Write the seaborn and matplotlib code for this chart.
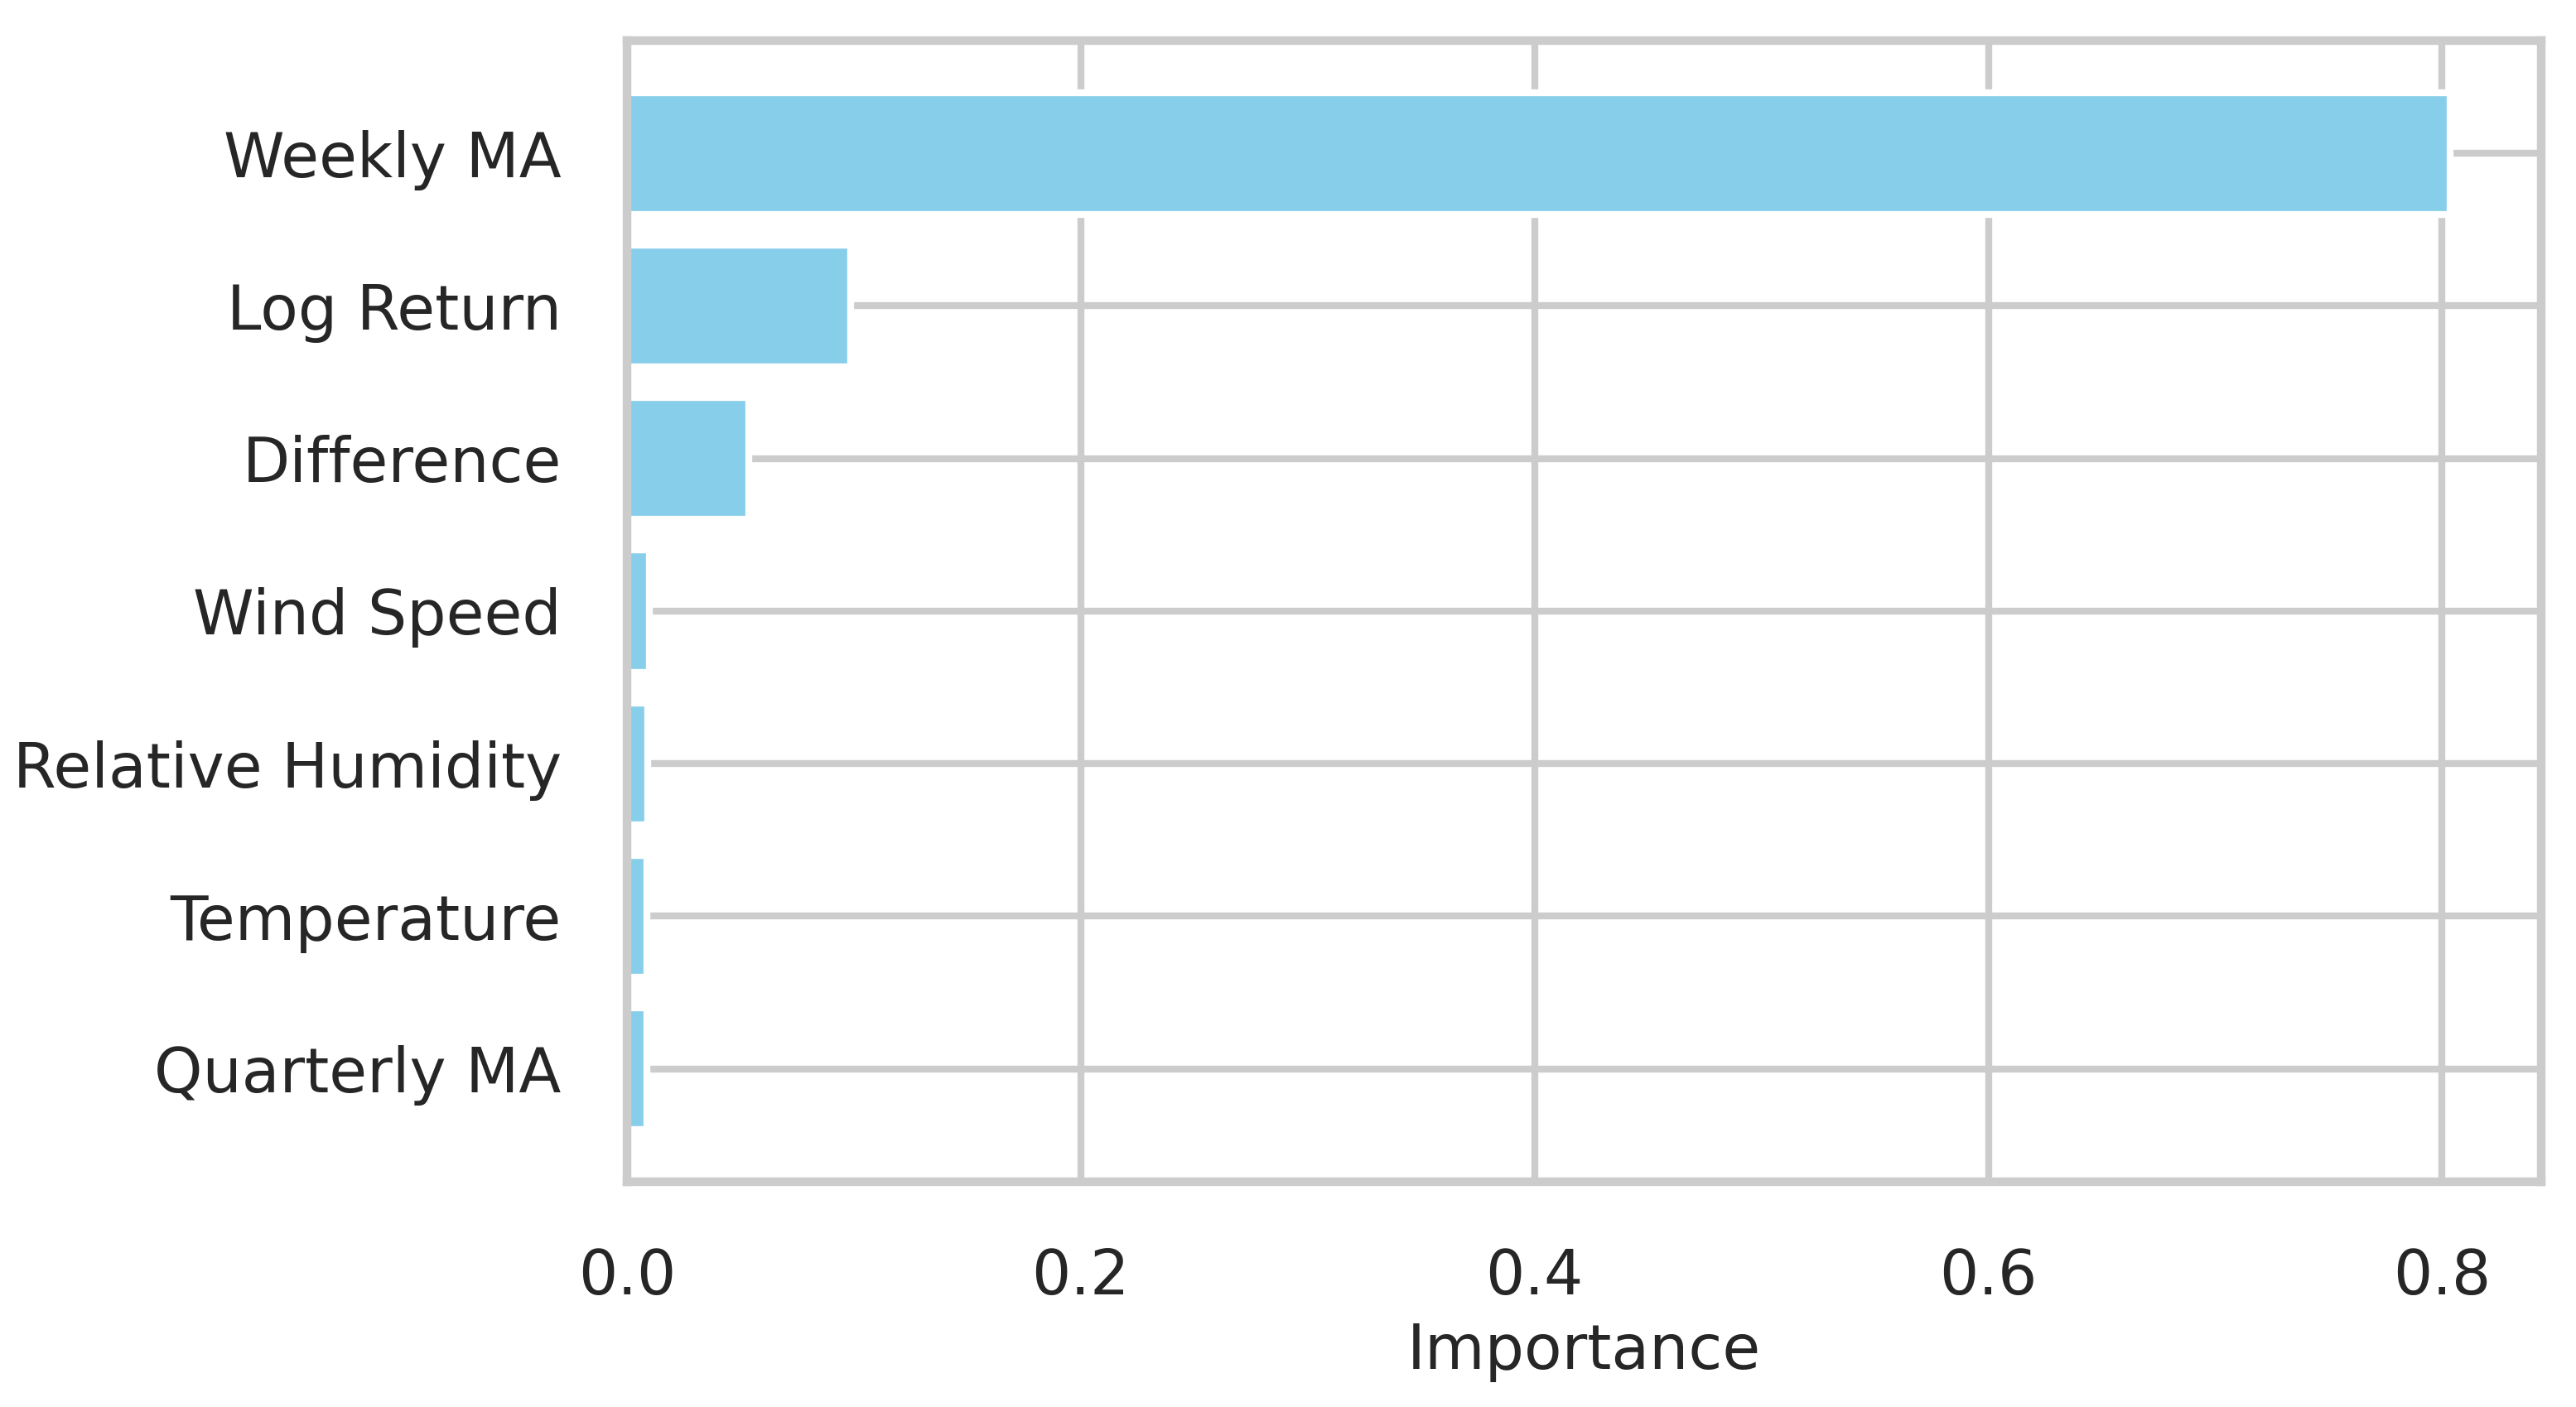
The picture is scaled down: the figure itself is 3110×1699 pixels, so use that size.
import pandas as pd
import matplotlib.pyplot as plt
import seaborn as sns

features = ['Weekly MA', 'Log Return', 'Difference', 'Wind Speed',
            'Relative Humidity', 'Temperature', 'Quarterly MA']
importance = [0.8035, 0.0985, 0.0535, 0.0097, 0.0090, 0.0088, 0.0087]

df = pd.DataFrame({'Feature': features, 'Importance': importance})

sns.set_theme(style='whitegrid', context='poster')
plt.rcParams['font.family'] = ['DejaVu Sans']

fig, ax = plt.subplots(figsize=(3110 / 300, 1699 / 300), dpi=300)
fig.subplots_adjust(left=0.2434, right=0.9865, top=0.9712, bottom=0.1601)

sns.barplot(data=df, x='Importance', y='Feature', orient='h', color='skyblue',
            saturation=1, width=0.8, edgecolor='white', linewidth=2, ax=ax)

# matplotlib-style margins on the category axis
n = len(features)
pad = 0.05 * (n - 1 + 0.8)
ax.set_ylim(n - 1 + 0.4 + pad, -0.4 - pad)
ax.margins(x=0.05)
ax.set_xticks([0.0, 0.2, 0.4, 0.6, 0.8])
ax.set_axisbelow(True)
ax.grid(True, axis='both', color='#cccccc', linewidth=2)

ax.set_ylabel('')
ax.set_xlabel('Importance', fontsize=17.9, labelpad=4)
ax.tick_params(axis='both', length=0, pad=19, labelsize=17.9)

for s in ax.spines.values():
    s.set_visible(True)
    s.set_color('#cccccc')
    s.set_linewidth(2.5)

fig.savefig('out.png', dpi=300)
